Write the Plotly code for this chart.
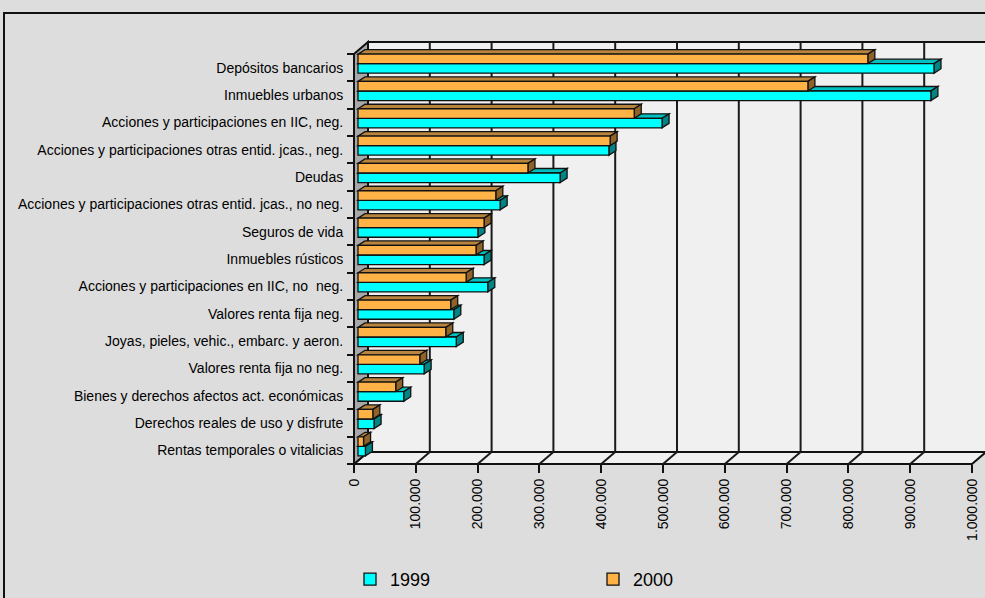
import plotly.graph_objects as go

# Asset categories, listed top to bottom as they appear on the chart
categories = [
    "Depósitos bancarios",
    "Inmuebles urbanos",
    "Acciones y participaciones en IIC, neg.",
    "Acciones y participaciones otras entid. jcas., neg.",
    "Deudas",
    "Acciones y participaciones otras entid. jcas., no neg.",
    "Seguros de vida",
    "Inmuebles rústicos",
    "Acciones y participaciones en IIC, no  neg.",
    "Valores renta fija neg.",
    "Joyas, pieles, vehic., embarc. y aeron.",
    "Valores renta fija no neg.",
    "Bienes y derechos afectos act. económicas",
    "Derechos reales de uso y disfrute",
    "Rentas temporales o vitalicias",
]
values_1999 = [932000, 927000, 492000, 406000, 327000, 230000, 194000, 204000,
               210000, 155000, 159000, 107000, 74000, 26000, 12000]
values_2000 = [825000, 728000, 447000, 408000, 275000, 223000, 204000, 191000,
               175000, 150000, 142000, 100000, 61000, 24000, 9000]
x_ticks = [0, 100000, 200000, 300000, 400000, 500000, 600000, 700000, 800000, 900000, 1000000]

FONT = "Liberation Sans, Arial, sans-serif"
C1999, C1999_TOP, C1999_END = "#00FFFF", "#00BFBF", "#008484"
C2000, C2000_TOP, C2000_END = "#FFB347", "#B8843E", "#8F6228"
EDGE = "#111111"

# ---- page / plot geometry (pixels) ----
FIG_W, FIG_H = 985, 598
L, R, T, B = 348, 985, 40, 470
PW, PH = R - L, B - T
PX_X = 61.8 / 100000.0          # pixels per unit value
PX_Y = 27.4                     # pixels per category slot
FRONT_X0, FRONT_Y0 = 354, 465   # front floor corner (value 0, bottom edge)
BAR_SHIFT = (4, 4)              # bar plane lies slightly behind the front edge
WALL_SHIFT = (14, 12)           # depth of the back wall
BAR_DEPTH = (7, 4.5)            # visible depth of each bar

n = len(categories)
pos = list(range(n - 1, -1, -1))    # top category gets the highest position
bar_w = 0.35


def x_range(zero_px):
    return [(L - zero_px) / PX_X, (R - zero_px) / PX_X]


def y_range(bottom_px):
    # bottom_px is where the lower edge of the lowest slot (-0.5) sits
    return [-0.5 - (B - bottom_px) / PX_Y, -0.5 + (bottom_px - T) / PX_Y]


# front plane axes (tick labels) and bar plane axes
x2r = x_range(FRONT_X0)
y2r = y_range(FRONT_Y0)
xr = x_range(FRONT_X0 + BAR_SHIFT[0])
yr = y_range(FRONT_Y0 - BAR_SHIFT[1])

WX, WY = WALL_SHIFT[0] / PX_X, WALL_SHIFT[1] / PX_Y
DX, DY = BAR_DEPTH[0] / PX_X, BAR_DEPTH[1] / PX_Y
XMAX = x_ticks[-1]
y_lo, y_hi = -0.5, n - 0.5

shapes = []


def poly(pts, xref, yref, fill, width=1.5, color=EDGE):
    d = "M " + " L ".join(f"{px},{py}" for px, py in pts) + " Z"
    shapes.append(dict(type="path", path=d, xref=xref, yref=yref, fillcolor=fill,
                       line=dict(color=color, width=width), layer="below"))


def seg(x0, y0, x1, y1, xref, yref, width=2, color="#1a1a1a"):
    shapes.append(dict(type="line", x0=x0, y0=y0, x1=x1, y1=y1, xref=xref, yref=yref,
                       line=dict(color=color, width=width), layer="below"))


# back wall with vertical gridlines
poly([(WX, y_lo + WY), (XMAX + WX, y_lo + WY), (XMAX + WX, y_hi + WY), (WX, y_hi + WY)],
     "x2", "y2", "#F0F0F0", width=2)
for t in x_ticks[1:]:
    seg(t + WX, y_lo + WY, t + WX, y_hi + WY, "x2", "y2")

# floor with depth lines
poly([(0, y_lo), (XMAX, y_lo), (XMAX + WX, y_lo + WY), (WX, y_lo + WY)],
     "x2", "y2", "#F0F0F0", width=2)
for t in x_ticks[1:-1]:
    seg(t, y_lo, t + WX, y_lo + WY, "x2", "y2")

# left side wall
poly([(0, y_lo), (0, y_hi), (WX, y_hi + WY), (WX, y_lo + WY)], "x2", "y2", "#A8A8A8", width=2)

# top and end faces of every bar (the front faces are the bar traces)
for p, v1, v2 in zip(pos, values_1999, values_2000):
    for v, lo, top_col, end_col in ((v1, p - bar_w, C1999_TOP, C1999_END),
                                    (v2, p, C2000_TOP, C2000_END)):
        hi = lo + bar_w
        poly([(0, hi), (v, hi), (v + DX, hi + DY), (DX, hi + DY)], "x", "y", top_col, width=1.3)
        poly([(v, lo), (v, hi), (v + DX, hi + DY), (v + DX, lo + DY)], "x", "y", end_col, width=1.3)

# outer frame of the chart
shapes.append(dict(type="rect", xref="paper", yref="paper",
                   x0=(4 - L) / PW, x1=(FIG_W + 6 - L) / PW,
                   y0=(B - FIG_H - 6) / PH, y1=(B - 13) / PH,
                   line=dict(color="#111111", width=2), fillcolor="rgba(0,0,0,0)", layer="above"))

fig = go.Figure()
fig.add_trace(go.Bar(name="1999", y=pos, x=values_1999, orientation="h",
                     width=bar_w, offset=-bar_w,
                     marker=dict(color=C1999, line=dict(color=EDGE, width=1.3)),
                     hoverinfo="skip"))
fig.add_trace(go.Bar(name="2000", y=pos, x=values_2000, orientation="h",
                     width=bar_w, offset=0,
                     marker=dict(color=C2000, line=dict(color=EDGE, width=1.3)),
                     hoverinfo="skip"))

fig.update_layout(
    width=FIG_W, height=FIG_H,
    margin=dict(l=L, r=FIG_W - R, t=T, b=FIG_H - B, pad=0),
    paper_bgcolor="#DDDDDD", plot_bgcolor="#DDDDDD",
    barmode="overlay", separators=",.",
    font=dict(family=FONT, size=14, color="#000000"),
    shapes=shapes,
    showlegend=True,
    legend=dict(orientation="h", x=(350 - L) / PW, xanchor="left",
                y=(B - 581) / PH, yanchor="middle",
                font=dict(family=FONT, size=18, color="#000000"),
                entrywidth=198, bgcolor="rgba(0,0,0,0)"),
    xaxis=dict(range=xr, visible=False, fixedrange=True),
    yaxis=dict(range=yr, visible=False, fixedrange=True),
    xaxis2=dict(range=x2r, overlaying="x", anchor="free", side="bottom",
                position=(B - FRONT_Y0) / PH,
                tickvals=x_ticks, tickformat=",d", tickangle=-90,
                ticks="outside", ticklen=8, tickwidth=1.5, tickcolor=EDGE,
                showgrid=False, zeroline=False, showline=False,
                tickfont=dict(family=FONT, size=14, color="#000000")),
    yaxis2=dict(range=y2r, overlaying="y", anchor="free", side="left",
                position=(FRONT_X0 - L) / PW,
                tickvals=pos, ticktext=categories,
                ticks="outside", ticklen=8, tickcolor="rgba(0,0,0,0)",
                minor=dict(tickvals=[k - 0.5 for k in range(n + 1)], ticks="outside",
                           ticklen=7, tickwidth=1.5, tickcolor=EDGE),
                showgrid=False, zeroline=False, showline=False,
                tickfont=dict(family=FONT, size=14, color="#000000")),
)

fig.write_html("out.html")
